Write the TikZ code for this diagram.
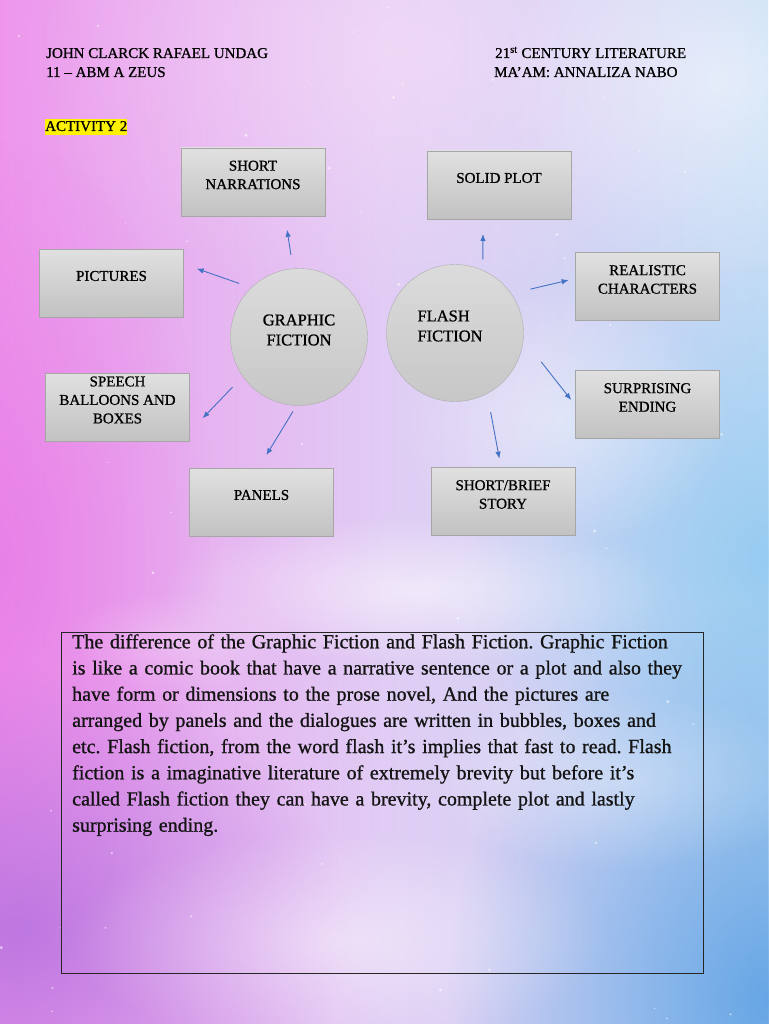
\documentclass[tikz,border=0pt]{standalone}
\usepackage{fontspec}
\setmainfont{Liberation Serif}
\newfontfamily\heavy{Liberation Serif}[FakeBold=0.9]
\usetikzlibrary{arrows.meta,positioning,calc,fadings}

\definecolor{bgpink}{RGB}{238,150,236}
\definecolor{bglav}{RGB}{224,204,244}
\definecolor{bgblue}{RGB}{196,220,245}
\definecolor{bgmag}{RGB}{230,120,230}
\definecolor{bgpurple}{RGB}{178,112,222}
\definecolor{bgdeep}{RGB}{86,156,226}
\definecolor{bgsky}{RGB}{140,200,240}
\definecolor{arrowblue}{RGB}{68,114,196}
\tikzfading[name=softglow,inner color=transparent!0,outer color=transparent!100]
\frenchspacing

\begin{document}
\begin{tikzpicture}[x=1pt,y=-1pt,
  box/.style={draw=black!35,top color=black!12,bottom color=black!24,minimum width=144pt,
  minimum height=68pt,inner sep=0pt,outer sep=0pt,label={[lbl]center:#1}},
  lbl/.style={align=center,yshift=7pt,text=black,font=\heavy\fontsize{15}{18.5}\selectfont},
  hub/.style={circle,draw=black!32,top color=black!14,bottom color=black!22,
  minimum size=137pt,inner sep=0pt,outer sep=0pt},
  hublbl/.style={yshift=7pt,text=black,font=\heavy\fontsize{16.5}{20}\selectfont},
  hdr/.style={anchor=base west,inner sep=0pt,text=black,font=\heavy\fontsize{15}{19}\selectfont},
  para/.style={inner sep=0pt,text width=630pt,align=left,text=black!92,
  font=\heavy\fontsize{20}{26.2}\selectfont},
  arr/.style={-{Latex[length=7pt,width=5.5pt]},draw=arrowblue,line width=0.9pt}]
\useasboundingbox (0,0) rectangle (768,1024);
% background
\fill[left color=bgpink,right color=bgblue,middle color=bglav] (0,0) rectangle (768,1024);
\fill[bgmag,opacity=0.7,path fading=softglow] (0,560) ellipse (220 and 420);
\fill[bgpurple,opacity=0.8,path fading=softglow] (20,930) ellipse (330 and 260);
\fill[bgsky,opacity=0.8,path fading=softglow] (768,560) ellipse (300 and 300);
\fill[bgdeep,opacity=0.85,path fading=softglow] (768,1000) ellipse (320 and 400);
\fill[bgpink!30,opacity=0.6,path fading=softglow] (400,50) ellipse (380 and 260);
\fill[white,opacity=0.5,path fading=softglow] (720,80) ellipse (220 and 200);
\fill[white,opacity=0.55,path fading=softglow] (420,590) ellipse (260 and 75);
\fill[white,opacity=0.45,path fading=softglow] (340,940) ellipse (270 and 110);
\fill[white,opacity=0.45,path fading=softglow] (560,420) ellipse (170 and 130);
\fill[white,opacity=0.35,path fading=softglow] (620,780) ellipse (200 and 90);
\fill[white,opacity=0.25,path fading=softglow] (180,640) ellipse (120 and 50);
\pgfmathsetseed{42}
\foreach \i in {1,...,60}
  \fill[white,opacity=0.55] ({768*rnd},{1024*rnd}) circle ({0.5+1.2*rnd});

% header
\node[hdr] (name) at (46,58) {JOHN CLARCK RAFAEL UNDAG};
\node[hdr] (sec) at ([yshift=-19pt]name.base west) {11 – ABM A ZEUS};
\node[hdr] (subj) at (495,58) {21\textsuperscript{st} CENTURY LITERATURE};
\node[hdr] (teach) at ([xshift=-1pt,yshift=-19pt]subj.base west) {MA’AM: ANNALIZA NABO};
\node[hdr,fill=yellow,inner ysep=1pt,text height=11pt,text depth=3pt] (act) at (45,131) {ACTIVITY 2};

% hubs
\node[hub,label={[hublbl,align=center]center:GRAPHIC\\FICTION}] (gf) at (299,337) {};
\node[hub,label={[hublbl,align=left,xshift=-5pt]center:FLASH\\FICTION}] (ff) at (455,333) {};

% boxes
\node[box={SHORT\\NARRATIONS}] (sn) at (253,182) {};
\node[box={PICTURES}] (pic) at (111.5,283) {};
\node[box={SPEECH\\BALLOONS AND\\BOXES}] (sp) at (117.5,407) {};
\node[box={PANELS}] (pan) at (261.5,502) {};
\node[box={SOLID PLOT}] (sol) at (499,185) {};
\node[box={REALISTIC\\CHARACTERS}] (rea) at (647.5,286.5) {};
\node[box={SURPRISING\\ENDING}] (sur) at (647.5,404.5) {};
\node[box={SHORT/BRIEF\\STORY}] (sbs) at (503,501.5) {};

\foreach \a/\b/\dx/\dy/\s/\e in {gf.95/sn.south/32/0/14/14,gf.134/pic.east/0/19/13/14,
  gf.215/sp.east/0/-25/15/19,gf.268/pan.north/-3/0/7/15,ff.66/sol.south/-16/0/11/15,
  ff.35/rea.west/0/8/20/7,ff.355/sur.west/0/-1/29/7,ff.298/sbs.north/-2/0/19/9}
  \draw[arr,shorten <=\s pt,shorten >=\e pt] (\a) -- ([xshift=\dx pt,yshift=\dy pt]\b);

% answer
\node[draw=black!85,line width=0.7pt,minimum width=642pt,minimum height=341pt,
  anchor=north west,inner sep=0pt] (frame) at (61,632) {};
\node[para,anchor=north west] (ans) at ([xshift=11pt,yshift=-2pt]frame.north west)
  {The difference of the Graphic Fiction and Flash Fiction. Graphic Fiction\\
  is like a comic book that have a narrative sentence or a plot and also they\\
  have form or dimensions to the prose novel, And the pictures are\\
  arranged by panels and the dialogues are written in bubbles, boxes and\\
  etc. Flash fiction, from the word flash it’s implies that fast to read. Flash\\
  fiction is a imaginative literature of extremely brevity but before it’s\\
  called Flash fiction they can have a brevity, complete plot and lastly\\
  surprising ending.};
\end{tikzpicture}
\end{document}
